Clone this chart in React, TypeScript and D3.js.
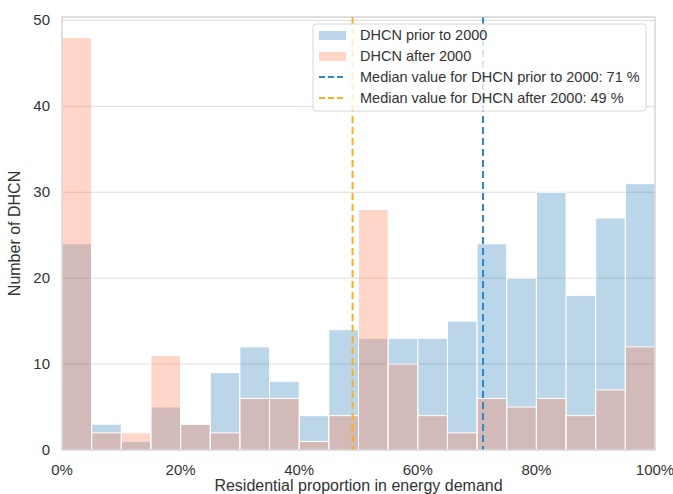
import React, { useEffect, useRef } from "react";
import * as d3 from "d3";

const binEdges = d3.range(0, 101, 5);
const priorCounts = [24, 3, 1, 5, 3, 9, 12, 8, 4, 14, 13, 13, 13, 15, 24, 20, 30, 18, 27, 31];
const afterCounts = [48, 2, 2, 11, 3, 2, 6, 6, 1, 4, 28, 10, 4, 2, 6, 5, 6, 4, 7, 12];
const medianPrior = 71;
const medianAfter = 49;
const xTicks = [0, 20, 40, 60, 80, 100];
const yTicks = [0, 10, 20, 30, 40, 50];
const legendLabels = [
  "DHCN prior to 2000",
  "DHCN after 2000",
  "Median value for DHCN prior to 2000: 71 %",
  "Median value for DHCN after 2000: 49 %",
];

const W = 673, H = 494;
const M = { left: 62, right: 18, top: 17, bottom: 44 };
const FONT = "'Liberation Sans', Arial, sans-serif";

export default function App() {
  const ref = useRef<SVGSVGElement>(null);
  useEffect(() => {
    const svg = d3.select(ref.current);
    svg.selectAll("*").remove();
    const x = d3.scaleLinear().domain([0, 100]).range([M.left, W - M.right]);
    const y = d3.scaleLinear().domain([0, 50.4]).range([H - M.bottom, M.top]);

    // grid
    svg.append("g").selectAll("line").data(yTicks).join("line")
      .attr("x1", x(0)).attr("x2", x(100))
      .attr("y1", d => y(d)).attr("y2", d => y(d))
      .attr("stroke", "#dcdcdc").attr("stroke-width", 1);

    const bins = priorCounts.map((_, i) => ({ x0: binEdges[i], x1: binEdges[i + 1] }));
    const drawBars = (counts: number[], color: string, op: number) => {
      svg.append("g").selectAll("rect").data(bins).join("rect")
        .attr("x", d => x(d.x0))
        .attr("width", d => x(d.x1) - x(d.x0))
        .attr("y", (d, i) => y(counts[i]))
        .attr("height", (d, i) => y(0) - y(counts[i]))
        .attr("fill", color).attr("fill-opacity", op)
        .attr("stroke", "white").attr("stroke-width", 1);
    };
    drawBars(priorCounts, "#1f77b4", 0.3);
    drawBars(afterCounts, "#ff7f50", 0.32);

    // median lines
    const medians = [
      { v: medianPrior, c: "#2f86cc" },
      { v: medianAfter, c: "#ffae1a" },
    ];
    svg.append("g").selectAll("line").data(medians).join("line")
      .attr("x1", d => x(d.v)).attr("x2", d => x(d.v))
      .attr("y1", y(50.4)).attr("y2", y(0))
      .attr("stroke", d => d.c).attr("stroke-width", 2)
      .attr("stroke-dasharray", "7,4");

    // frame
    svg.append("rect").attr("x", x(0)).attr("y", y(50.4))
      .attr("width", x(100) - x(0)).attr("height", y(0) - y(50.4))
      .attr("fill", "none").attr("stroke", "#cccccc").attr("stroke-width", 1.2);

    // ticks
    svg.append("g").selectAll("text").data(xTicks).join("text")
      .attr("x", d => x(d)).attr("y", y(0) + 25)
      .attr("text-anchor", "middle").attr("font-family", FONT).attr("font-size", 15)
      .attr("fill", "#333").text(d => `${d}%`);
    svg.append("g").selectAll("text").data(yTicks).join("text")
      .attr("x", x(0) - 12).attr("y", d => y(d) + 5)
      .attr("text-anchor", "end").attr("font-family", FONT).attr("font-size", 15)
      .attr("fill", "#333").text(d => `${d}`);

    svg.append("text").attr("x", (x(0) + x(100)) / 2).attr("y", H - 3)
      .attr("text-anchor", "middle").attr("font-family", FONT).attr("font-size", 16)
      .attr("fill", "#333").text("Residential proportion in energy demand");
    svg.append("text")
      .attr("transform", `translate(20,${(y(0) + y(50.4)) / 2}) rotate(-90)`)
      .attr("text-anchor", "middle").attr("font-family", FONT).attr("font-size", 16)
      .attr("fill", "#333").text("Number of DHCN");

    // legend
    const lg = svg.append("g");
    lg.append("rect").attr("x", 313).attr("y", 24).attr("width", 333).attr("height", 87)
      .attr("rx", 3).attr("fill", "white").attr("fill-opacity", 0.8)
      .attr("stroke", "#d8d8d8").attr("stroke-width", 1);
    const rows = [35, 56, 77, 98];
    lg.append("rect").attr("x", 319).attr("y", rows[0] - 4).attr("width", 27).attr("height", 9)
      .attr("fill", "#1f77b4").attr("fill-opacity", 0.3);
    lg.append("rect").attr("x", 319).attr("y", rows[1] - 4).attr("width", 27).attr("height", 9)
      .attr("fill", "#ff7f50").attr("fill-opacity", 0.32);
    lg.append("line").attr("x1", 319).attr("x2", 346).attr("y1", rows[2]).attr("y2", rows[2])
      .attr("stroke", medians[0].c).attr("stroke-width", 2).attr("stroke-dasharray", "6,3");
    lg.append("line").attr("x1", 319).attr("x2", 346).attr("y1", rows[3]).attr("y2", rows[3])
      .attr("stroke", medians[1].c).attr("stroke-width", 2).attr("stroke-dasharray", "6,3");
    lg.selectAll("text.l").data(legendLabels).join("text")
      .attr("x", 360).attr("y", (d, i) => rows[i] + 5)
      .attr("font-family", FONT).attr("font-size", 14.5).attr("fill", "#333").text(d => d);
  }, []);
  return (
    <svg ref={ref} width={W} height={H}
      style={{ position: "absolute", left: 0, top: 0, background: "white" }} />
  );
}
